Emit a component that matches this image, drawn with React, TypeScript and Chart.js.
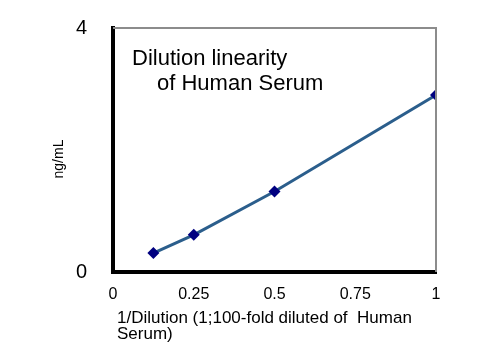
import React, { useEffect, useRef } from "react";
import { Chart, registerables } from "chart.js";

Chart.register(...registerables);

const dilution = [0.125, 0.25, 0.5, 1];
const concentration = [0.31, 0.61, 1.32, 2.9];
const xTicks = [0, 0.25, 0.5, 0.75, 1];
const yTicks = [0, 4];
const chartTitle = ["Dilution linearity", "of Human Serum"];
const xTitle = ["1/Dilution (1;100-fold diluted of  Human", "Serum)"];
const yTitle = "ng/mL";

const FONT = "'Liberation Sans', Arial, sans-serif";

const textPlugin = {
  id: "customText",
  afterDraw(chart: any) {
    const { ctx, chartArea } = chart;
    ctx.save();
    // top/right frame
    ctx.strokeStyle = "#8c8c8c";
    ctx.lineWidth = 2;
    ctx.beginPath();
    ctx.moveTo(chartArea.left, chartArea.top);
    ctx.lineTo(chartArea.right, chartArea.top);
    ctx.lineTo(chartArea.right, chartArea.bottom);
    ctx.stroke();

    ctx.fillStyle = "#000";
    ctx.textAlign = "left";
    ctx.textBaseline = "alphabetic";
    ctx.font = `22px ${FONT}`;
    ctx.fillText(chartTitle[0], chartArea.left + 19, chartArea.top + 37);
    ctx.fillText(chartTitle[1], chartArea.left + 44, chartArea.top + 62);

    ctx.font = `17px ${FONT}`;
    ctx.fillText(xTitle[0], chartArea.left + 4, chartArea.bottom + 51);
    ctx.fillText(xTitle[1], chartArea.left + 4, chartArea.bottom + 67);

    ctx.translate(59, 159);
    ctx.rotate(-Math.PI / 2);
    ctx.textAlign = "center";
    ctx.textBaseline = "middle";
    ctx.font = `14px ${FONT}`;
    ctx.fillText(yTitle, 0, 0);
    ctx.restore();
  },
};

export default function App() {
  const ref = useRef<HTMLCanvasElement | null>(null);
  useEffect(() => {
    if (!ref.current) return;
    const chart = new Chart(ref.current, {
      type: "scatter",
      data: {
        datasets: [
          {
            data: dilution.map((x, i) => ({ x, y: concentration[i] })),
            showLine: true,
            borderColor: "#2B5E8C",
            borderWidth: 3,
            pointStyle: "rectRot",
            pointRadius: 6,
            pointBackgroundColor: "#000080",
            pointBorderColor: "#000080",
            pointBorderWidth: 0,
          },
        ],
      },
      options: {
        responsive: false,
        animation: false,
        layout: { padding: { left: 0, right: 64, top: 28, bottom: 0 } },
        plugins: {
          legend: { display: false },
          tooltip: { enabled: false },
        },
        scales: {
          x: {
            type: "linear",
            min: 0,
            max: 1,
            afterFit: (s: any) => {
              s.height = 88;
              s.paddingLeft = 0;
              s.paddingRight = 0;
            },
            afterBuildTicks: (s: any) => {
              s.ticks = xTicks.map((v) => ({ value: v }));
            },
            ticks: {
              color: "#000",
              font: { family: FONT, size: 16 },
              padding: 13,
              callback: (v: any) => String(v),
            },
            grid: { display: false, drawTicks: false },
            border: { display: true, color: "#000", width: 4 },
          },
          y: {
            min: 0,
            max: 4,
            afterFit: (s: any) => {
              s.width = 113;
              s.paddingTop = 0;
              s.paddingBottom = 0;
            },
            afterBuildTicks: (s: any) => {
              s.ticks = yTicks.map((v) => ({ value: v }));
            },
            ticks: {
              color: "#000",
              font: { family: FONT, size: 20 },
              padding: 26,
              callback: (v: any) => String(v),
            },
            grid: { display: false, drawTicks: false },
            border: { display: true, color: "#000", width: 4 },
          },
        },
      },
      plugins: [textPlugin],
    });
    return () => chart.destroy();
  }, []);
  return (
    <div style={{ position: "absolute", left: 0, top: 0, width: 500, height: 360, background: "#fff" }}>
      <canvas ref={ref} width={500} height={360} />
    </div>
  );
}
